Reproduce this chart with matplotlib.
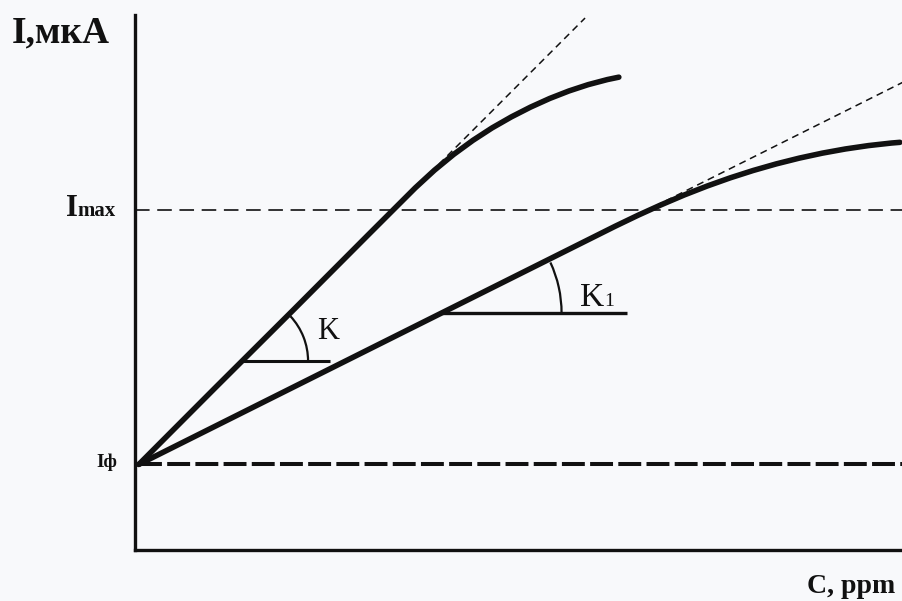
import numpy as np
import matplotlib
matplotlib.use("Agg")
import matplotlib.pyplot as plt
from matplotlib.patches import Arc

plt.rcParams["lines.scale_dashes"] = False
plt.rcParams["font.family"] = ["Liberation Serif", "DejaVu Serif"]

# Calibration curves: current vs concentration (arbitrary units)
conc_a = [0.0, 1.0, 2.0, 3.0, 3.6, 3.85, 4.1, 4.35, 4.6, 4.85, 5.1,
          5.35, 5.6, 5.85, 6.1, 6.25]
current_a = [1.6, 3.04, 4.47, 5.91, 6.77, 7.10, 7.395, 7.657, 7.89, 8.095,
             8.278, 8.44, 8.58, 8.698, 8.793, 8.838]

conc_b = [0.0, 3.0, 6.2, 6.5, 6.8, 7.1, 7.4, 7.7, 8.0, 8.3, 8.6, 8.9,
          9.2, 9.5, 9.8, 9.91]
current_b = [1.6, 3.754, 6.05, 6.257, 6.452, 6.635, 6.803, 6.956, 7.094,
             7.217, 7.325, 7.418, 7.496, 7.559, 7.607, 7.62]

I_bg = 1.6      # background current
I_max = 6.35    # upper limit of the linear range

k_a = 1.436     # initial slope of the steep curve (K)
k_b = 0.718     # initial slope of the shallow curve (K1)

tangent_a_x = [3.8, 5.81]
tangent_b_x = [6.72, 9.95]

# slope markers: height of the horizontal leg, its right end, arc radius (px)
angle_a = dict(y=3.53, x_end=2.49, r=66)
angle_b = dict(y=4.43, x_end=6.35, r=120)

W, H = 903, 601
BG = "#f8f9fb"
fig = plt.figure(figsize=(W / 100, H / 100), dpi=100, facecolor=BG)
ax = fig.add_axes([135 / W, (H - 550) / H, (W - 135) / W, (550 - 15) / H])
ax.set_facecolor(BG)
ax.set_xlim(-0.05, 9.95)
ax.set_ylim(0, 10)

for side in ("top", "right"):
    ax.spines[side].set_visible(False)
for side in ("left", "bottom"):
    ax.spines[side].set_linewidth(2.4)
    ax.spines[side].set_color("#111111")
ax.set_xticks([])
ax.set_yticks([])

ink = "#111111"

# reference levels
ax.axhline(I_max, color=ink, lw=1.2, dashes=(10.5, 5.5))
ax.plot([0, 9.95], [I_bg, I_bg], color=ink, lw=2.9, dashes=(16.5, 3.8))

# curves
ax.plot(conc_a, current_a, color=ink, lw=4.0, solid_capstyle="round",
        solid_joinstyle="round")
ax.plot(conc_b, current_b, color=ink, lw=4.0, solid_capstyle="round",
        solid_joinstyle="round")

# tangents to the linear parts
for xs, k in ((tangent_a_x, k_a), (tangent_b_x, k_b)):
    xs = np.array(xs)
    ax.plot(xs, I_bg + k * xs, color=ink, lw=1.1, dashes=(5, 3.5))

# slope markers
px_x = (W - 135) / 10.0
px_y = (550 - 15) / 10.0
for m, k, lw in ((angle_a, k_a, 2.2), (angle_b, k_b, 2.4)):
    xv = (m["y"] - I_bg) / k
    ax.plot([xv, m["x_end"]], [m["y"], m["y"]], color=ink, lw=lw,
            solid_capstyle="butt")
    arc = Arc((xv, m["y"]), 2 * m["r"] / px_x, 2 * m["r"] / px_y,
              theta1=0, theta2=np.degrees(np.arctan(k)) - 2,
              color=ink, lw=1.6)
    ax.add_patch(arc)


def fx(px):
    return px / W


def fy(py):
    return (H - py) / H


fig.text(fx(12), fy(42), "I,мкА", fontsize=27, fontweight="bold",
         color=ink, va="baseline", ha="left")
fig.text(fx(66), fy(216), "I", fontsize=22, fontweight="bold",
         color=ink, va="baseline", ha="left")
fig.text(fx(77.5), fy(216), "max", fontsize=15, fontweight="bold",
         color=ink, va="baseline", ha="left")
fig.text(fx(117), fy(467), "Iф", fontsize=14, fontweight="bold",
         color=ink, va="baseline", ha="right")
fig.text(fx(317), fy(339), "K", fontsize=22, color=ink,
         va="baseline", ha="left")
fig.text(fx(580), fy(306), "K", fontsize=24, color=ink,
         va="baseline", ha="left")
fig.text(fx(604), fy(306), "1", fontsize=14, color=ink,
         va="baseline", ha="left")
fig.text(fx(807), fy(593), "C, ppm", fontsize=20, fontweight="bold",
         color=ink, va="baseline", ha="left")

fig.savefig("out.png", dpi=100, facecolor=BG)
